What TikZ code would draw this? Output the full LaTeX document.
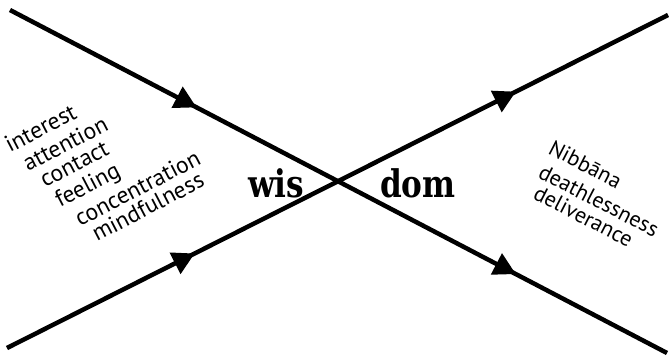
\documentclass[tikz,border=0pt]{standalone}
\usepackage{fontspec}
\setmainfont{PT Sans}
\newfontfamily\wisfont{DejaVu Serif}
\usetikzlibrary{arrows.meta,decorations.markings}

\begin{document}
\begin{tikzpicture}[x=1pt,y=-1pt,
  wayline/.style={line width=4.5pt, postaction={decorate}, decoration={markings,
    mark=at position 0.284 with {\arrow{Triangle[length=22pt,width=23pt]}},
    mark=at position 0.770 with {\arrow{Triangle[length=22pt,width=23pt]}}}},
  lefttext/.style={anchor=base west, inner sep=0pt, rotate=27.5, font=\fontsize{23.5}{26}\selectfont},
  righttext/.style={anchor=base west, inner sep=0pt, rotate=-27.3, font=\fontsize{22}{25}\selectfont},
  wistext/.style={anchor=base west, inner sep=0pt, xscale=0.82, font=\wisfont\bfseries\fontsize{38}{40}\selectfont}]
\useasboundingbox (0,0) rectangle (669,357);

% the two paths
\coordinate (topleft) at (10,10);
\coordinate (bottomright) at (667,353);
\coordinate (bottomleft) at (7,348);
\coordinate (topright) at (668,15);
\draw[wayline] (topleft) -- (bottomright);
\draw[wayline] (bottomleft) -- (topright);

% left side
\node[lefttext] (interest) at (10,153) {interest};
\node[lefttext] (attention) at (28,172) {attention};
\node[lefttext] (contact) at (45,188) {contact};
\node[lefttext] (feeling) at (60,208) {feeling};
\node[lefttext] (concentration) at (80,227) {concentration};
\node[lefttext] (mindfulness) at (97,242) {mindfulness};

% middle
\node[wistext] (wis) at (248,197) {wis};
\node[wistext] (dom) at (380,197) {dom};

% right side
\node[righttext] (nibbana) at (547,153) {Nibbāna};
\node[righttext] (deathlessness) at (537,177) {deathlessness};
\node[righttext] (deliverance) at (532,198) {deliverance};

\end{tikzpicture}
\end{document}
